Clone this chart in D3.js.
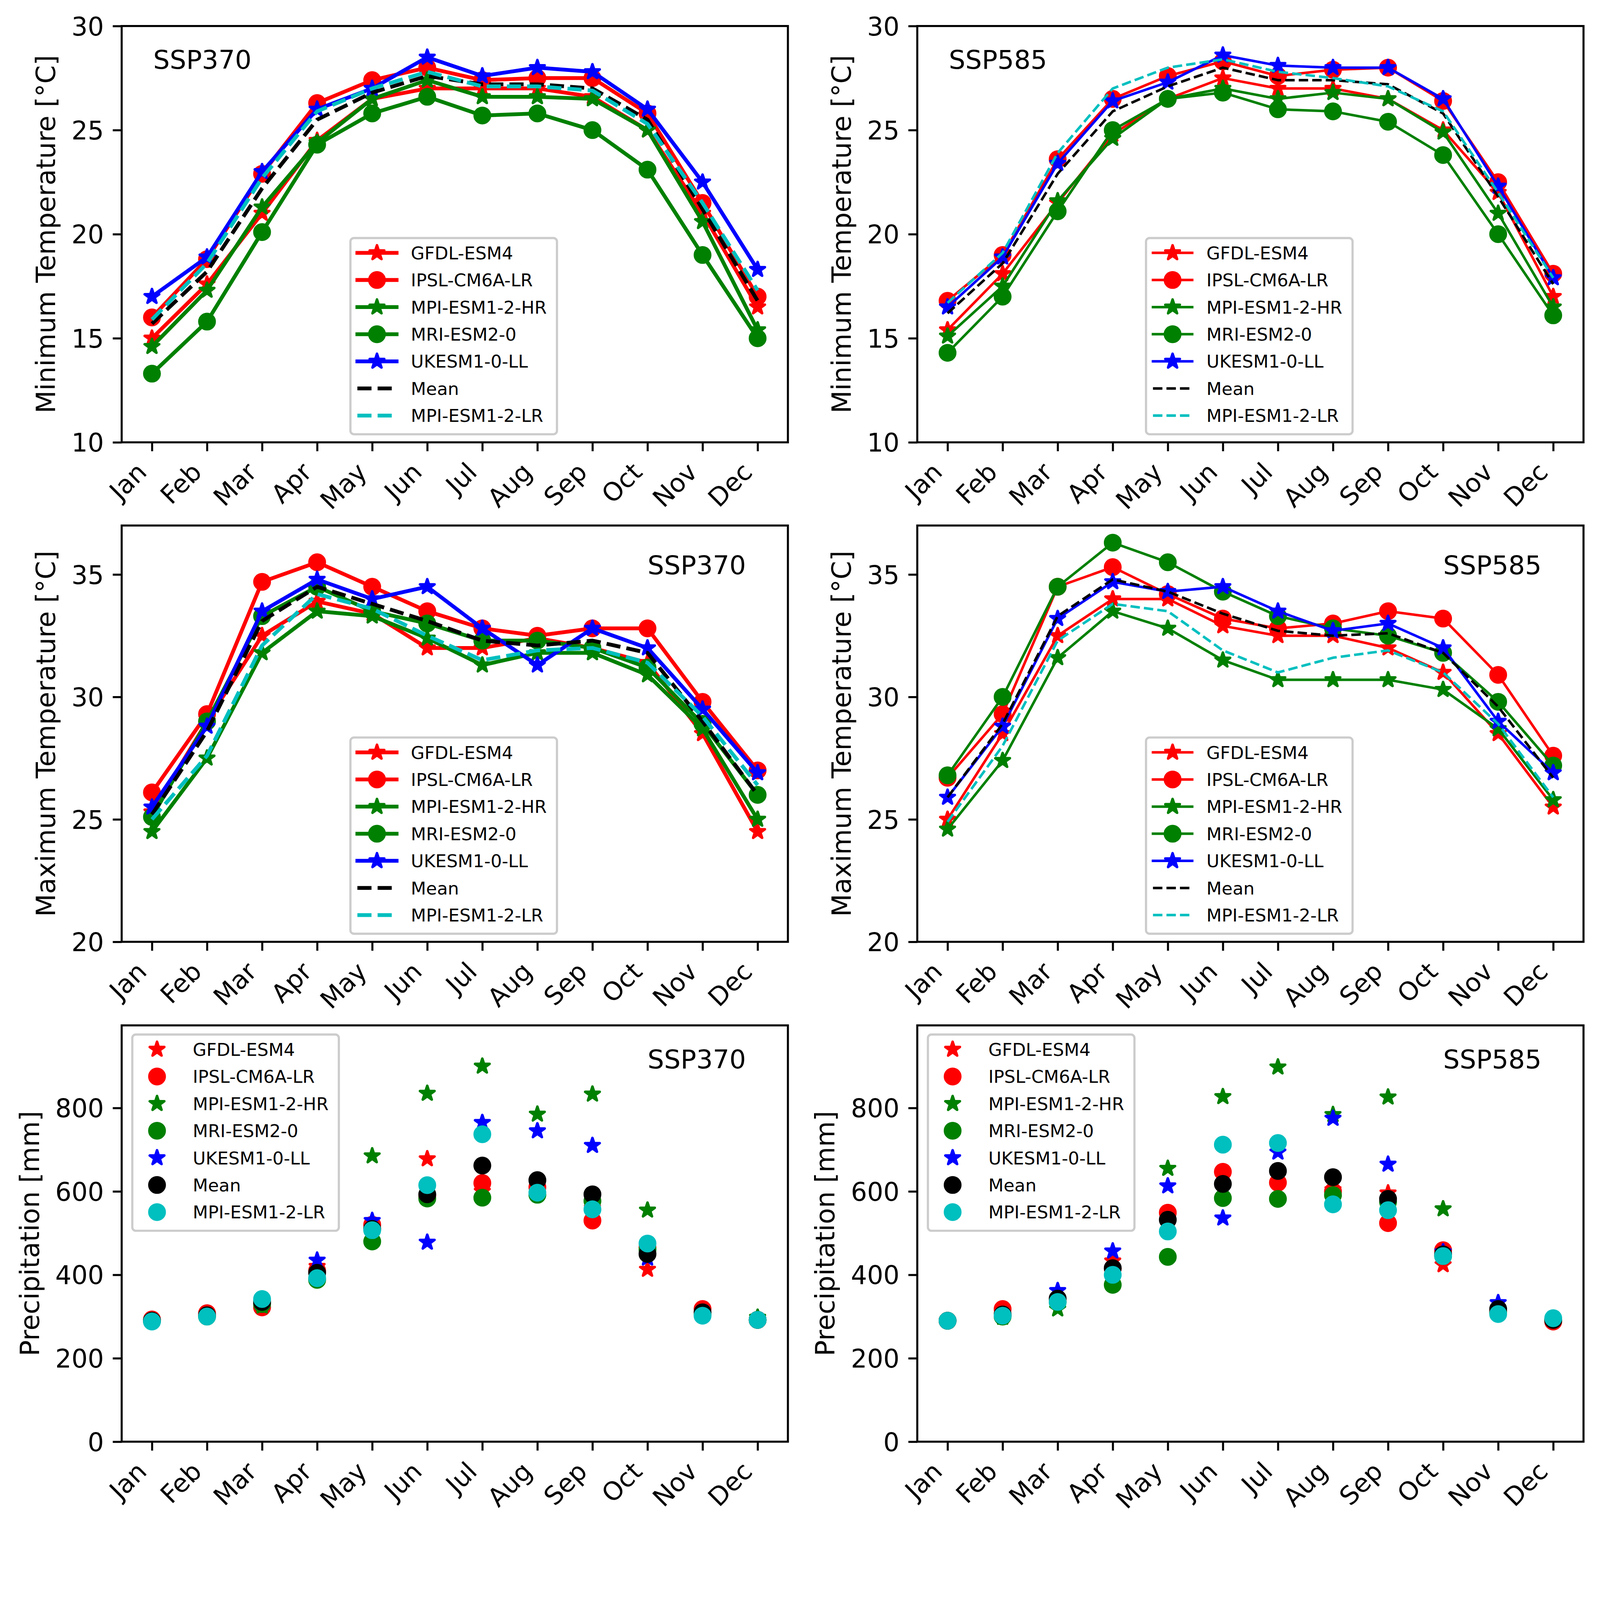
<!DOCTYPE html>
<html>
<head>
<meta charset="utf-8">
<script src="https://cdn.jsdelivr.net/npm/d3@7"></script>
<style>
  html, body { margin: 0; padding: 0; background: #fff; overflow: hidden; }
  text { font-family: "DejaVu Sans", sans-serif; fill: #000; }
</style>
</head>
<body>
<script>
// ---- data ----
var months = ["Jan","Feb","Mar","Apr","May","Jun","Jul","Aug","Sep","Oct","Nov","Dec"];
var models = ["GFDL-ESM4","IPSL-CM6A-LR","MPI-ESM1-2-HR","MRI-ESM2-0","UKESM1-0-LL","Mean","MPI-ESM1-2-LR"];

// rows follow the order of models
var tmin370 = [
  [15.0, 17.6, 21.0, 24.5, 26.5, 27.0, 27.0, 27.0, 26.6, 25.0, 21.0, 16.5],
  [16.0, 18.8, 22.9, 26.3, 27.4, 28.0, 27.4, 27.5, 27.5, 25.8, 21.5, 17.0],
  [14.6, 17.3, 21.3, 24.4, 26.5, 27.4, 26.6, 26.6, 26.5, 25.0, 20.6, 15.4],
  [13.3, 15.8, 20.1, 24.3, 25.8, 26.6, 25.7, 25.8, 25.0, 23.1, 19.0, 15.0],
  [17.0, 18.9, 23.0, 26.0, 27.0, 28.5, 27.6, 28.0, 27.8, 26.0, 22.5, 18.3],
  [15.7, 18.2, 22.2, 25.5, 26.8, 27.6, 27.2, 27.2, 27.0, 25.5, 21.2, 16.8],
  [15.9, 18.6, 22.7, 25.9, 27.0, 27.8, 27.1, 27.1, 26.9, 25.3, 21.5, 17.3]
];
var tmin585 = [
  [15.4, 18.1, 21.5, 24.8, 26.5, 27.5, 27.0, 27.0, 26.5, 25.0, 22.0, 17.0],
  [16.8, 19.0, 23.6, 26.5, 27.6, 28.3, 27.6, 27.9, 28.0, 26.4, 22.5, 18.1],
  [15.1, 17.5, 21.6, 24.6, 26.5, 27.0, 26.5, 26.8, 26.5, 24.9, 21.0, 16.5],
  [14.3, 17.0, 21.1, 25.0, 26.5, 26.8, 26.0, 25.9, 25.4, 23.8, 20.0, 16.1],
  [16.5, 18.9, 23.4, 26.4, 27.3, 28.6, 28.1, 28.0, 28.0, 26.5, 22.3, 17.9],
  [16.2, 18.6, 22.9, 25.9, 27.1, 28.0, 27.4, 27.4, 27.2, 25.8, 21.8, 17.6],
  [16.7, 19.1, 23.9, 27.0, 28.0, 28.4, 27.8, 27.5, 27.1, 25.9, 22.0, 17.9]
];
var tmax370 = [
  [25.3, 29.0, 32.5, 33.9, 33.4, 32.0, 32.0, 32.4, 32.0, 31.4, 28.5, 24.5],
  [26.1, 29.3, 34.7, 35.5, 34.5, 33.5, 32.8, 32.5, 32.8, 32.8, 29.8, 27.0],
  [24.5, 27.5, 31.8, 33.5, 33.3, 32.4, 31.3, 31.8, 31.8, 30.9, 28.7, 25.0],
  [25.1, 29.0, 33.3, 34.5, 33.5, 33.0, 32.3, 32.3, 32.0, 31.2, 28.9, 26.0],
  [25.5, 28.8, 33.5, 34.8, 34.0, 34.5, 32.8, 31.3, 32.8, 32.0, 29.5, 26.9],
  [25.2, 28.6, 33.1, 34.5, 33.8, 33.1, 32.3, 32.1, 32.3, 31.8, 29.0, 26.0],
  [25.0, 27.6, 32.1, 34.2, 33.6, 32.5, 31.5, 31.9, 32.0, 31.4, 29.2, 26.4]
];
var tmax585 = [
  [25.0, 28.5, 32.5, 34.0, 34.0, 32.9, 32.5, 32.5, 32.0, 31.0, 28.5, 25.5],
  [26.7, 29.3, 34.5, 35.3, 34.2, 33.2, 32.8, 33.0, 33.5, 33.2, 30.9, 27.6],
  [24.6, 27.4, 31.6, 33.5, 32.8, 31.5, 30.7, 30.7, 30.7, 30.3, 28.7, 25.8],
  [26.8, 30.0, 34.5, 36.3, 35.5, 34.3, 33.3, 32.8, 32.5, 31.8, 29.8, 27.2],
  [25.9, 28.8, 33.2, 34.7, 34.3, 34.5, 33.5, 32.7, 33.0, 32.0, 29.0, 26.9],
  [25.9, 28.9, 33.3, 34.8, 34.3, 33.4, 32.7, 32.5, 32.6, 31.8, 29.6, 26.7],
  [24.9, 28.0, 32.3, 33.8, 33.5, 31.9, 31.0, 31.6, 31.9, 31.0, 28.9, 25.9]
];
var precip370 = [
  [292, 305, 325, 420, 515, 678, 600, 605, 560, 413, 312, 292],
  [293, 308, 322, 410, 520, 590, 620, 610, 530, 465, 318, 292],
  [290, 300, 325, 392, 685, 835, 900, 785, 833, 555, 305, 298],
  [290, 300, 330, 388, 480, 583, 585, 592, 577, 460, 305, 292],
  [290, 302, 335, 435, 530, 478, 765, 745, 710, 440, 308, 292],
  [290, 303, 335, 405, 510, 593, 662, 627, 593, 450, 310, 292],
  [288, 300, 342, 392, 507, 615, 737, 597, 557, 475, 302, 292]
];
var precip585 = [
  [290, 305, 340, 433, 530, 610, 640, 604, 596, 424, 310, 290],
  [290, 318, 340, 415, 549, 647, 621, 600, 524, 459, 312, 288],
  [290, 298, 318, 395, 655, 827, 898, 784, 826, 558, 310, 292],
  [290, 300, 335, 376, 443, 584, 582, 591, 575, 445, 310, 292],
  [290, 302, 362, 457, 613, 536, 694, 775, 665, 455, 333, 292],
  [290, 305, 343, 416, 532, 618, 649, 634, 582, 449, 318, 292],
  [290, 302, 335, 400, 504, 712, 716, 569, 555, 445, 306, 296]
];

var tminTicks = [10, 15, 20, 25, 30];
var tmaxTicks = [20, 25, 30, 35];
var precipTicks = [0, 200, 400, 600, 800];

// ---- styles ----
var colors = ["#ff0000","#ff0000","#008000","#008000","#0000ff","#000000","#00bfbf"];
var lineMarkers = ["star","circle","star","circle","star",null,null];
var dotMarkers = ["star","circle","star","circle","star","circle","circle"];
var dashed = [false,false,false,false,false,true,true];

var pt = 500 / 72;          // figure was saved at ~500 dpi
var figW = 4366, figH = 4187;
var W = 1818, H = 1136;
var colX = [332, 2503];
var rowY = [71, 1434, 2798];
var tickFont = 10 * pt, labelFont = 72, legFont = 6.94 * pt;

var panels = [
  {data: tmin370, row: 0, col: 0, kind: "line", lw: 1.5, dom: [10, 30], ticks: tminTicks, label: "Minimum Temperature [\u00b0C]", scen: "SSP370"},
  {data: tmin585, row: 0, col: 1, kind: "line", lw: 1.0, dom: [10, 30], ticks: tminTicks, label: "Minimum Temperature [\u00b0C]", scen: "SSP585"},
  {data: tmax370, row: 1, col: 0, kind: "line", lw: 1.5, dom: [20, 37], ticks: tmaxTicks, label: "Maximum Temperature [\u00b0C]", scen: "SSP370"},
  {data: tmax585, row: 1, col: 1, kind: "line", lw: 1.0, dom: [20, 37], ticks: tmaxTicks, label: "Maximum Temperature [\u00b0C]", scen: "SSP585"},
  {data: precip370, row: 2, col: 0, kind: "dot", lw: 1.0, dom: [0, 998], ticks: precipTicks, label: "Precipitation [mm]", scen: "SSP370"},
  {data: precip585, row: 2, col: 1, kind: "dot", lw: 1.0, dom: [0, 998], ticks: precipTicks, label: "Precipitation [mm]", scen: "SSP585"}
];

// scale to whatever viewport we get, keeping the figure's own coordinates
var svg = d3.select("body").append("svg")
  .attr("viewBox", "0 0 " + figW + " " + figH)
  .attr("preserveAspectRatio", "xMinYMin meet")
  .style("width", "100vw").style("height", "100vh")
  .style("display", "block");
svg.append("rect").attr("width", figW).attr("height", figH).attr("fill", "#fff");

function starPath(R) {
  var pts = [], r = R * 0.381966;
  for (var k = 0; k < 10; k++) {
    var a = -Math.PI / 2 + k * Math.PI / 5;
    var rr = k % 2 === 0 ? R : r;
    pts.push([rr * Math.cos(a), rr * Math.sin(a)]);
  }
  return "M" + pts.map(function(p){ return p[0].toFixed(2) + "," + p[1].toFixed(2); }).join("L") + "Z";
}

function drawMarker(g, type, cx, cy, color) {
  var R = 3 * pt;
  if (type === "circle") {
    g.append("circle").attr("cx", cx).attr("cy", cy).attr("r", R)
      .attr("fill", color).attr("stroke", color).attr("stroke-width", pt);
  } else if (type === "star") {
    g.append("path").attr("d", starPath(R))
      .attr("transform", "translate(" + cx + "," + cy + ")")
      .attr("fill", color).attr("stroke", color).attr("stroke-width", pt)
      .attr("stroke-linejoin", "round");
  }
}

function dashArray(lw) {
  return (3.7 * lw * pt) + "," + (1.6 * lw * pt);
}

panels.forEach(function(p) {
  var left = colX[p.col], top = rowY[p.row];
  var g = svg.append("g").attr("transform", "translate(" + left + "," + top + ")");

  var x = d3.scaleLinear().domain([-0.55, 11.55]).range([0, W]);
  var y = d3.scaleLinear().domain(p.dom).range([H, 0]);

  var line = d3.line()
    .x(function(d, i){ return x(i); })
    .y(function(d){ return y(d); });

  // series
  p.data.forEach(function(vals, s) {
    var sg = g.append("g");
    if (p.kind === "line") {
      sg.append("path").attr("d", line(vals))
        .attr("fill", "none")
        .attr("stroke", colors[s])
        .attr("stroke-width", p.lw * pt)
        .attr("stroke-linejoin", "round")
        .attr("stroke-linecap", dashed[s] ? "butt" : "square")
        .attr("stroke-dasharray", dashed[s] ? dashArray(p.lw) : null);
      if (lineMarkers[s]) {
        vals.forEach(function(v, i){ drawMarker(sg, lineMarkers[s], x(i), y(v), colors[s]); });
      }
    } else {
      vals.forEach(function(v, i){ drawMarker(sg, dotMarkers[s], x(i), y(v), colors[s]); });
    }
  });

  // x axis
  var xAxis = d3.axisBottom(x)
    .tickValues(d3.range(12))
    .tickFormat(function(i){ return months[i]; })
    .tickSize(3.5 * pt).tickSizeOuter(0);
  var xg = g.append("g").attr("transform", "translate(0," + H + ")").call(xAxis);
  xg.select(".domain").remove();
  xg.selectAll(".tick line").attr("stroke", "#000").attr("stroke-width", 0.8 * pt);
  xg.selectAll(".tick text")
    .attr("x", null).attr("y", null).attr("dy", null)
    .attr("text-anchor", "end")
    .attr("font-size", tickFont)
    .attr("font-family", "DejaVu Sans")
    .attr("fill", "#000")
    .attr("transform", "translate(-11," + (7 * pt + 37) + ") rotate(-45)");

  // y axis
  var yAxis = d3.axisLeft(y).tickValues(p.ticks)
    .tickSize(3.5 * pt).tickPadding(3.5 * pt).tickSizeOuter(0);
  var yg = g.append("g").call(yAxis);
  yg.select(".domain").remove();
  yg.selectAll(".tick line").attr("stroke", "#000").attr("stroke-width", 0.8 * pt);
  yg.selectAll(".tick text")
    .attr("dy", "0.36em")
    .attr("font-size", tickFont)
    .attr("font-family", "DejaVu Sans")
    .attr("fill", "#000");

  // frame
  g.append("rect").attr("width", W).attr("height", H)
    .attr("fill", "none").attr("stroke", "#000").attr("stroke-width", 0.8 * pt);

  // y label
  var yb = yg.node().getBBox();
  var lx = yb.x - 4 * pt - 17;
  g.append("text")
    .attr("transform", "translate(" + lx + "," + (H / 2) + ") rotate(-90)")
    .attr("text-anchor", "middle")
    .attr("font-size", labelFont)
    .text(p.label);

  // scenario tag
  var sx = p.row === 0 ? 86 : 1435;
  var sy = p.row === 1 ? 133 : 117;
  g.append("text").attr("x", sx).attr("y", sy)
    .attr("font-size", 71)
    .text(p.scen);

  // legend
  var lg = g.append("g");
  var box = lg.append("rect");
  var rowH = 74, padL = 19, handleW = 107, textGap = 39;
  var maxW = 0;
  models.forEach(function(m, s) {
    var cy = 40.5 + s * rowH;
    if (p.kind === "line") {
      lg.append("line")
        .attr("x1", padL).attr("x2", padL + handleW)
        .attr("y1", cy).attr("y2", cy)
        .attr("stroke", colors[s])
        .attr("stroke-width", p.lw * pt)
        .attr("stroke-linecap", dashed[s] ? "butt" : "square")
        .attr("stroke-dasharray", dashed[s] ? dashArray(p.lw) : null);
      if (lineMarkers[s]) drawMarker(lg, lineMarkers[s], padL + handleW / 2, cy, colors[s]);
    } else {
      drawMarker(lg, dotMarkers[s], padL + handleW / 2 - 5, cy, colors[s]);
    }
    var t = lg.append("text")
      .attr("x", padL + handleW + textGap)
      .attr("y", cy + 0.729 * legFont / 2)
      .attr("font-size", legFont)
      .text(m);
    maxW = Math.max(maxW, t.node().getComputedTextLength());
  });
  var bw = padL + handleW + textGap + maxW + 28;
  var bh = 40.5 + 6 * rowH + 51;
  box.attr("width", bw).attr("height", bh)
    .attr("rx", 0.2 * legFont).attr("ry", 0.2 * legFont)
    .attr("fill", "#fff").attr("fill-opacity", 0.8)
    .attr("stroke", "#cccccc").attr("stroke-width", 6);
  var bx, by;
  if (p.kind === "line") {
    bx = W / 2 - bw / 2 - 3;
    by = H - 22 - bh;
  } else {
    bx = 29;
    by = 25;
  }
  lg.attr("transform", "translate(" + bx + "," + by + ")");
});
</script>
</body>
</html>
